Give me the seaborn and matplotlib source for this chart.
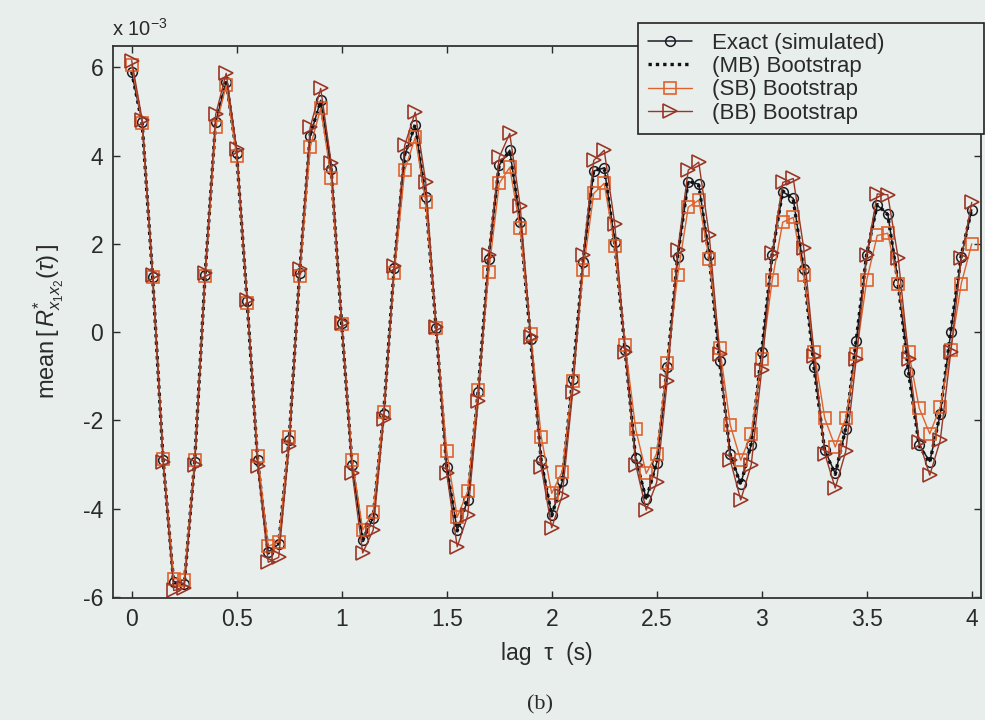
import numpy as np
import pandas as pd
import matplotlib
matplotlib.use("Agg")
import matplotlib.pyplot as plt
import seaborn as sns

# lag grid (s), 0.05 s sampling
lag = np.round(np.arange(81) * 0.05, 2)

# values in units of 1e-3
exact = [5.88, 4.75, 1.25, -2.90, -5.65, -5.70, -2.95, 1.30, 4.75, 5.67,
         4.05, 0.70, -2.90, -4.98, -4.80, -2.45, 1.35, 4.45, 5.25, 3.70,
         0.20, -3.00, -4.70, -4.20, -1.85, 1.45, 4.00, 4.68, 3.05, 0.10,
         -3.05, -4.48, -3.80, -1.35, 1.65, 3.78, 4.12, 2.50, -0.15, -2.90,
         -4.14, -3.38, -1.05, 1.60, 3.65, 3.72, 2.05, -0.40, -2.85, -3.78,
         -2.96, -0.80, 1.70, 3.41, 3.35, 1.74, -0.65, -2.75, -3.44, -2.55,
         -0.45, 1.75, 3.18, 3.03, 1.42, -0.80, -2.67, -3.20, -2.20, -0.20,
         1.75, 2.87, 2.68, 1.12, -0.90, -2.55, -2.93, -1.86, 0.00, 1.71, 2.77]

mb = [5.90, 4.72, 1.22, -2.92, -5.68, -5.72, -2.92, 1.33, 4.78, 5.70,
      4.02, 0.66, -2.93, -5.00, -4.78, -2.42, 1.38, 4.48, 5.22, 3.66,
      0.16, -3.03, -4.72, -4.17, -1.82, 1.48, 4.03, 4.70, 3.01, 0.06,
      -3.08, -4.50, -3.77, -1.32, 1.68, 3.80, 4.10, 2.46, -0.19, -2.93,
      -4.16, -3.35, -1.02, 1.63, 3.67, 3.70, 2.01, -0.44, -2.88, -3.80,
      -2.93, -0.77, 1.73, 3.43, 3.33, 1.70, -0.69, -2.78, -3.46, -2.52,
      -0.42, 1.78, 3.20, 3.01, 1.38, -0.84, -2.70, -3.22, -2.17, -0.17,
      1.78, 2.89, 2.66, 1.08, -0.94, -2.58, -2.95, -1.83, 0.03, 1.74, 2.79]

sb = [6.05, 4.73, 1.24, -2.87, -5.58, -5.61, -2.89, 1.27, 4.65, 5.59,
      3.98, 0.67, -2.80, -4.85, -4.75, -2.38, 1.28, 4.19, 5.07, 3.50,
      0.19, -2.90, -4.48, -4.07, -1.80, 1.33, 3.67, 4.41, 2.95, 0.09,
      -2.70, -4.19, -3.60, -1.30, 1.36, 3.37, 3.73, 2.35, -0.05, -2.37,
      -3.65, -3.16, -1.10, 1.40, 3.14, 3.37, 1.95, -0.30, -2.20, -3.20,
      -2.75, -0.70, 1.29, 2.83, 2.99, 1.65, -0.35, -2.10, -2.90, -2.30,
      -0.60, 1.18, 2.49, 2.60, 1.30, -0.45, -1.95, -2.60, -1.95, -0.50,
      1.18, 2.19, 2.24, 1.10, -0.45, -1.72, -2.30, -1.70, -0.40, 1.10, 2.00]

bb = [6.15, 4.80, 1.30, -2.95, -5.85, -5.80, -3.00, 1.35, 4.93, 5.86,
      4.14, 0.73, -3.03, -5.21, -5.10, -2.57, 1.42, 4.64, 5.52, 3.82,
      0.21, -3.18, -5.00, -4.48, -1.97, 1.50, 4.23, 4.98, 3.40, 0.12,
      -3.20, -4.86, -4.15, -1.55, 1.75, 3.96, 4.50, 2.85, -0.10, -3.05,
      -4.43, -3.70, -1.35, 1.74, 3.89, 4.12, 2.45, -0.45, -3.00, -4.03,
      -3.40, -1.10, 1.85, 3.67, 3.85, 2.19, -0.50, -2.90, -3.80, -3.00,
      -0.85, 1.80, 3.39, 3.48, 1.90, -0.55, -2.75, -3.53, -2.70, -0.60,
      1.75, 3.13, 3.11, 1.67, -0.60, -2.48, -3.24, -2.45, -0.45, 1.67, 2.94]

labels = ["Exact (simulated)", "(MB) Bootstrap", "(SB) Bootstrap", "(BB) Bootstrap"]
xticks = [0, 0.5, 1, 1.5, 2, 2.5, 3, 3.5, 4]
xticklabels = ["0", "0.5", "1", "1.5", "2", "2.5", "3", "3.5", "4"]
yticks = [-6, -4, -2, 0, 2, 4, 6]
yticklabels = ["-6", "-4", "-2", "0", "2", "4", "6"]

sns.set_theme(style="ticks")
bg = "#e8eeec"
plt.rcParams["font.family"] = ["Liberation Sans", "DejaVu Sans"]
plt.rcParams["mathtext.fontset"] = "custom"
plt.rcParams["mathtext.rm"] = "Liberation Sans"
plt.rcParams["mathtext.it"] = "Liberation Sans:italic"
plt.rcParams["mathtext.sf"] = "Liberation Sans"

fig = plt.figure(figsize=(9.85, 7.2), dpi=100, facecolor=bg)
ax = fig.add_axes([113 / 985, 1 - 598 / 720, (981 - 113) / 985, (598 - 46) / 720])
ax.set_facecolor(bg)

styles = [
    dict(data=exact, color="#1c1c24", ls="-", lw=1.1, marker="o", ms=7, mew=1.1),
    dict(data=mb, color="#111111", ls=(0, (1, 1.2)), lw=2.4, marker=None, ms=0, mew=0),
    dict(data=sb, color="#e0622c", ls="-", lw=1.0, marker="s", ms=8, mew=1.2),
    dict(data=bb, color="#9a3626", ls="-", lw=1.0, marker=">", ms=10, mew=1.2),
]

for lab, st in zip(labels, styles):
    df = pd.DataFrame({"lag": lag, "val": st["data"]})
    kw = dict(color=st["color"], linestyle=st["ls"], linewidth=st["lw"])
    if st["marker"]:
        kw.update(marker=st["marker"], markersize=st["ms"], markeredgewidth=st["mew"],
                  markerfacecolor="none", markeredgecolor=st["color"])
    sns.lineplot(data=df, x="lag", y="val", ax=ax, label=lab, errorbar=None,
                 sort=False, **kw)

ax.set_xlim(-0.089, 4.044)
ax.set_ylim(-6.02, 6.48)
ax.set_xticks(xticks)
ax.set_xticklabels(xticklabels)
ax.set_yticks(yticks)
ax.set_yticklabels(yticklabels)
ax.tick_params(direction="in", length=5, width=1.0, top=True, right=True,
               labelsize=16.5, colors="#2a2a2a", pad=7)
for sp in ax.spines.values():
    sp.set_visible(True)
    sp.set_linewidth(1.3)
    sp.set_color("#333333")

ax.set_xlabel("lag  τ  (s)", fontsize=16.5, color="#2a2a2a", labelpad=8)
ax.set_ylabel(r"mean$\,[\,R^{*}_{x_{1}x_{2}}(\tau)\,]$", fontsize=17,
              color="#2a2a2a", labelpad=12)

fig.text(112 / 985, 1 - 29 / 720, r"x 10$^{-3}$", fontsize=14.5, color="#2a2a2a",
         va="center", ha="left")
fig.text(540 / 985, 1 - 705 / 720, "(b)", fontsize=16, color="#2a2a2a",
         family=["Liberation Serif", "DejaVu Serif"], ha="center", va="center")

leg = ax.legend(loc="upper left",
                bbox_to_anchor=(638 / 985, 1 - 134 / 720, 346 / 985, 111 / 720),
                bbox_transform=fig.transFigure, mode="expand",
                fontsize=16, frameon=True,
                fancybox=False, edgecolor="#222222", facecolor=bg, framealpha=1,
                handlelength=2.0, handletextpad=0.9, borderpad=0.45,
                labelspacing=0.1, numpoints=1, borderaxespad=0)
leg.get_frame().set_linewidth(1.2)
for t in leg.get_texts():
    t.set_color("#2a2a2a")

fig.savefig("out.png", dpi=100, facecolor=bg)
